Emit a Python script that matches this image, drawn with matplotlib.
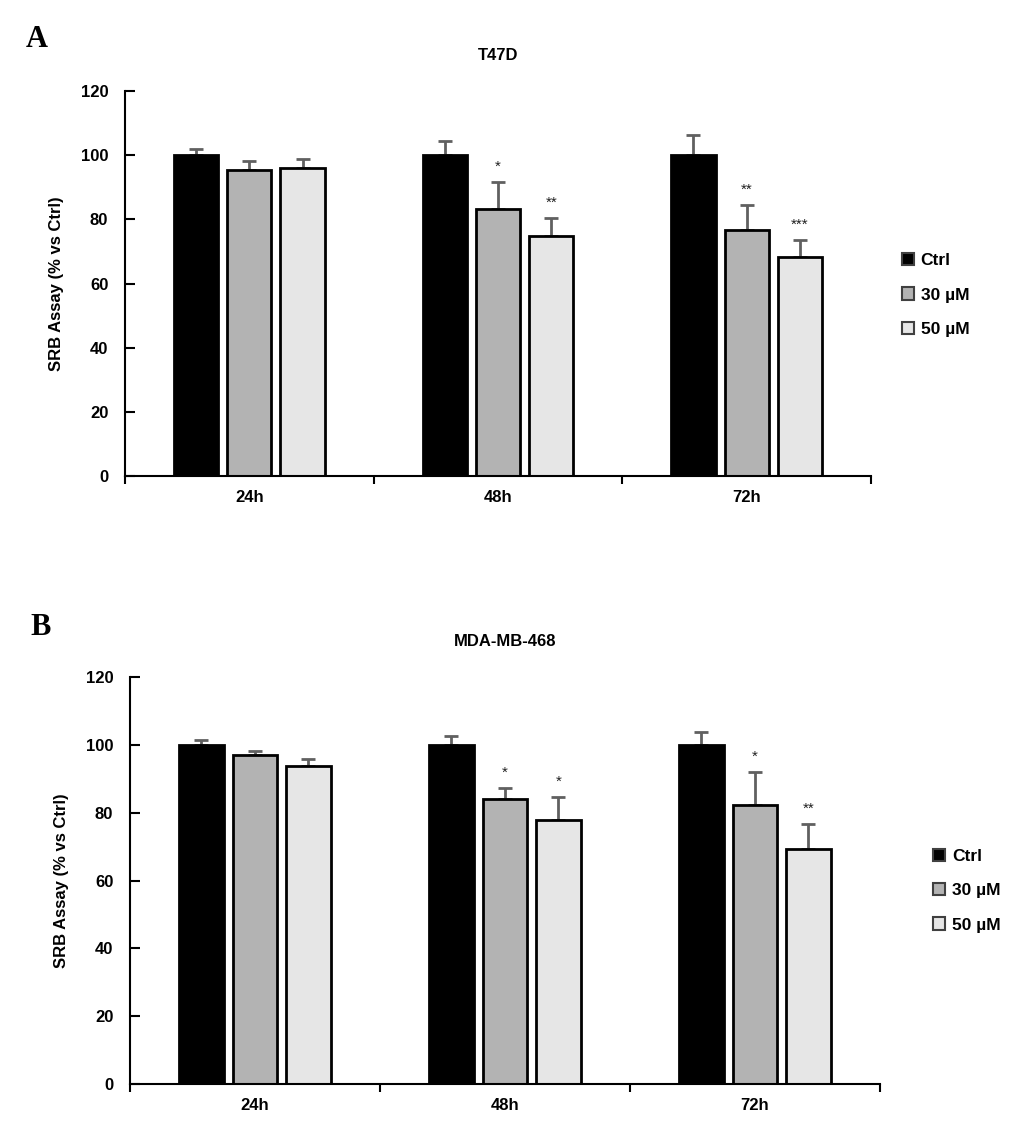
import numpy as np
import matplotlib
matplotlib.use("Agg")
import matplotlib.pyplot as plt
from matplotlib.patches import Patch

plt.rcParams["font.family"] = ["Liberation Sans", "DejaVu Sans"]
plt.rcParams["font.weight"] = "bold"

# Données
times = ["24h", "48h", "72h"]
groups = ["Ctrl", "30 µM", "50 µM"]
colors = ["#000000", "#b3b3b3", "#e6e6e6"]

t47d_vals = [[100, 100, 100], [95.4, 83.2, 76.7], [96.0, 74.8, 68.3]]
t47d_err = [[1.9, 4.5, 6.4], [2.8, 8.4, 7.8], [2.8, 5.6, 5.3]]
t47d_stars = [["", "", ""], ["", "*", "**"], ["", "**", "***"]]

mda_vals = [[100, 100, 100], [97.0, 84.0, 82.3], [93.8, 77.8, 69.3]]
mda_err = [[1.4, 2.6, 3.8], [1.2, 3.3, 9.7], [2.0, 6.8, 7.3]]
mda_stars = [["", "", ""], ["", "*", "*"], ["", "*", "**"]]

fig = plt.figure(figsize=(10.18, 11.32), dpi=100)


def draw_panel(ax, vals, errs, stars, title, leg_x, leg_y):
    x = np.arange(len(times)) + 0.5
    width = 0.178
    step = 0.214
    for i in range(len(groups)):
        xpos = x + (i - 1) * step
        ax.bar(xpos, vals[i], width, color=colors[i], edgecolor="black",
               linewidth=2, zorder=2)
        ax.errorbar(xpos, vals[i], yerr=[np.zeros(3), errs[i]], fmt="none",
                    ecolor="#606060", elinewidth=2, capsize=5, capthick=2,
                    zorder=1)
        for j in range(len(times)):
            if stars[i][j]:
                ax.text(xpos[j], vals[i][j] + errs[i][j] + 2.5, stars[i][j],
                        ha="center", va="bottom", fontsize=11,
                        fontweight="normal", color="#202020")
    ax.set_xlim(0, 3)
    ax.set_ylim(0, 120)
    ax.set_yticks(range(0, 121, 20))
    ax.set_xticks([0, 1, 2, 3])
    ax.set_xticklabels([])
    ax.set_xticks(x, minor=True)
    ax.set_xticklabels(times, minor=True)
    ax.tick_params(axis="x", which="major", direction="out", length=6, width=1.5)
    ax.tick_params(axis="x", which="minor", length=0, pad=10, labelsize=12)
    ax.tick_params(axis="y", direction="in", length=7, width=1.5, labelsize=12, pad=12)
    for lab in ax.get_xticklabels(minor=True) + ax.get_yticklabels():
        lab.set_fontweight("bold")
    ax.spines["top"].set_visible(False)
    ax.spines["right"].set_visible(False)
    ax.spines["left"].set_linewidth(1.5)
    ax.spines["bottom"].set_linewidth(1.5)
    ax.set_ylabel("SRB Assay (% vs Ctrl)", fontsize=12, fontweight="bold", labelpad=12)
    ax.set_title(title, fontsize=12, fontweight="bold", pad=22)
    handles = [Patch(facecolor=c, edgecolor="#404040", linewidth=1.5) for c in colors]
    ax.legend(handles, groups, loc="center left", bbox_to_anchor=(leg_x, leg_y),
              frameon=False, handlelength=0.7, handleheight=0.7,
              handletextpad=0.4, labelspacing=1.1, prop={"weight": "bold", "size": 12.5})


ax1 = fig.add_axes([0.1228, 0.5795, 0.7328, 0.3401])
draw_panel(ax1, t47d_vals, t47d_err, t47d_stars, "T47D", 1.02, 0.47)

ax2 = fig.add_axes([0.1277, 0.0424, 0.7367, 0.3595])
draw_panel(ax2, mda_vals, mda_err, mda_stars, "MDA-MB-468", 1.05, 0.475)

fig.text(0.025, 0.965, "A", fontsize=22, fontweight="bold", family="Liberation Serif", va="center")
fig.text(0.030, 0.446, "B", fontsize=22, fontweight="bold", family="Liberation Serif", va="center")

fig.savefig("out.png", dpi=100, facecolor="white")
